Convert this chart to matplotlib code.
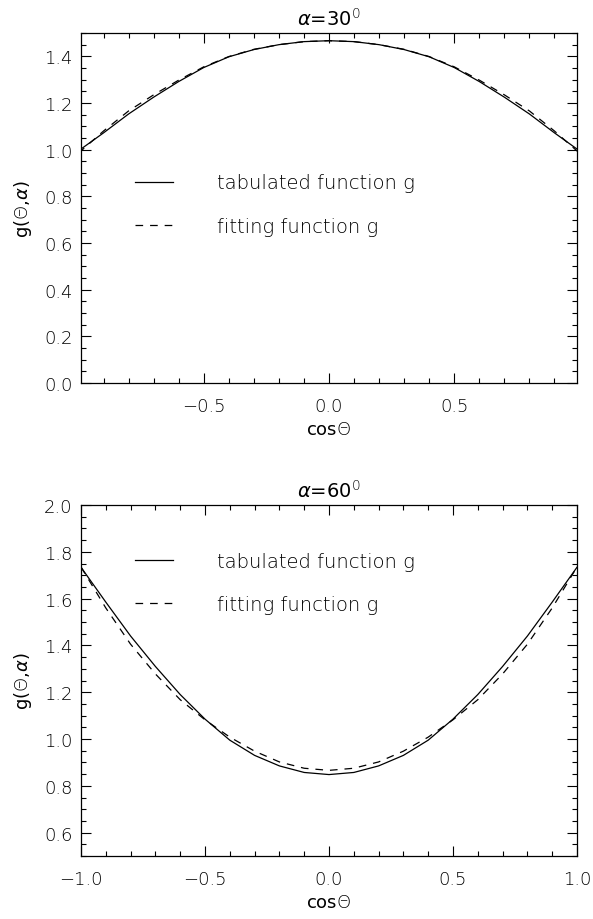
import matplotlib.pyplot as plt
from matplotlib.ticker import MultipleLocator

plt.rcParams['font.family'] = ['DejaVu Sans']
plt.rcParams['font.weight'] = 'light'
plt.rcParams['mathtext.fontset'] = 'dejavusans'
plt.rcParams['lines.scale_dashes'] = False

# cos(Theta) grid
cos_theta = [-1.0, -0.9, -0.8, -0.7, -0.6, -0.5, -0.4, -0.3, -0.2, -0.1, 0.0,
             0.1, 0.2, 0.3, 0.4, 0.5, 0.6, 0.7, 0.8, 0.9, 1.0]

# alpha = 30 deg
g30_tab = [0.995, 1.072, 1.153, 1.225, 1.292, 1.352, 1.398, 1.429, 1.450, 1.463, 1.467,
           1.463, 1.450, 1.429, 1.398, 1.352, 1.292, 1.225, 1.153, 1.072, 0.995]
g30_fit = [0.985, 1.080, 1.166, 1.235, 1.298, 1.355, 1.399, 1.430, 1.450, 1.463, 1.467,
           1.463, 1.450, 1.430, 1.399, 1.355, 1.298, 1.235, 1.166, 1.080, 0.985]

# alpha = 60 deg
g60_tab = [1.734, 1.585, 1.440, 1.310, 1.190, 1.085, 0.995, 0.930, 0.885, 0.857, 0.848,
           0.857, 0.885, 0.930, 0.995, 1.085, 1.190, 1.310, 1.440, 1.585, 1.734]
g60_fit = [1.735, 1.560, 1.405, 1.278, 1.168, 1.082, 1.008, 0.948, 0.902, 0.875, 0.866,
           0.875, 0.902, 0.948, 1.008, 1.082, 1.168, 1.278, 1.405, 1.560, 1.735]

fs = 13
W, H = 593, 920
fig = plt.figure(figsize=(W/100, H/100), dpi=100)
ax1 = fig.add_axes([81/W, 1-384/H, 496/W, 350/H])
ax2 = fig.add_axes([81/W, 1-857/H, 496/W, 351/H])

panels = [
    (ax1, g30_tab, g30_fit, r'$\alpha$=30$^0$', (-0.99, 0.99), (0.0, 1.5), 0.51),
    (ax2, g60_tab, g60_fit, r'$\alpha$=60$^0$', (-1.0, 1.0), (0.5, 2.0), 0.7775),
]

for ax, tab, fit, title, xl, yl, ly in panels:
    ax.plot(cos_theta, tab, color='black', lw=0.9, label='tabulated function g')
    ax.plot(cos_theta, fit, color='black', lw=0.9, dashes=(5.5, 5),
            label='fitting function g')
    ax.set_xlim(*xl)
    ax.set_ylim(*yl)
    ax.xaxis.set_major_locator(MultipleLocator(0.5))
    ax.xaxis.set_minor_locator(MultipleLocator(0.1))
    ax.yaxis.set_major_locator(MultipleLocator(0.2))
    ax.yaxis.set_minor_locator(MultipleLocator(0.05))
    ax.xaxis.set_major_formatter(lambda v, p: f'{v:.1f}'.replace('-', '\u2212'))
    ax.yaxis.set_major_formatter(lambda v, p: f'{v:.1f}')
    ax.tick_params(which='both', direction='in', top=True, right=True,
                   width=0.8, labelsize=fs)
    ax.tick_params(which='major', length=7)
    ax.tick_params(which='minor', length=3.5)
    ax.tick_params(axis='x', pad=10)
    ax.tick_params(axis='y', pad=6)
    for s in ax.spines.values():
        s.set_linewidth(0.9)
    ax.set_title(title, fontsize=fs + 1, pad=6)
    ax.set_xlabel(r'cos$\Theta$', fontsize=fs, labelpad=4)
    ax.set_ylabel(r'g($\Theta$,$\alpha$)', fontsize=fs, labelpad=7)
    ax.legend(loc='center left', bbox_to_anchor=(0.109, ly), frameon=False,
              fontsize=fs + 1, handlelength=1.95, handletextpad=2.25,
              labelspacing=1.25, borderpad=0, borderaxespad=0)

fig.savefig('out.png', dpi=100)
